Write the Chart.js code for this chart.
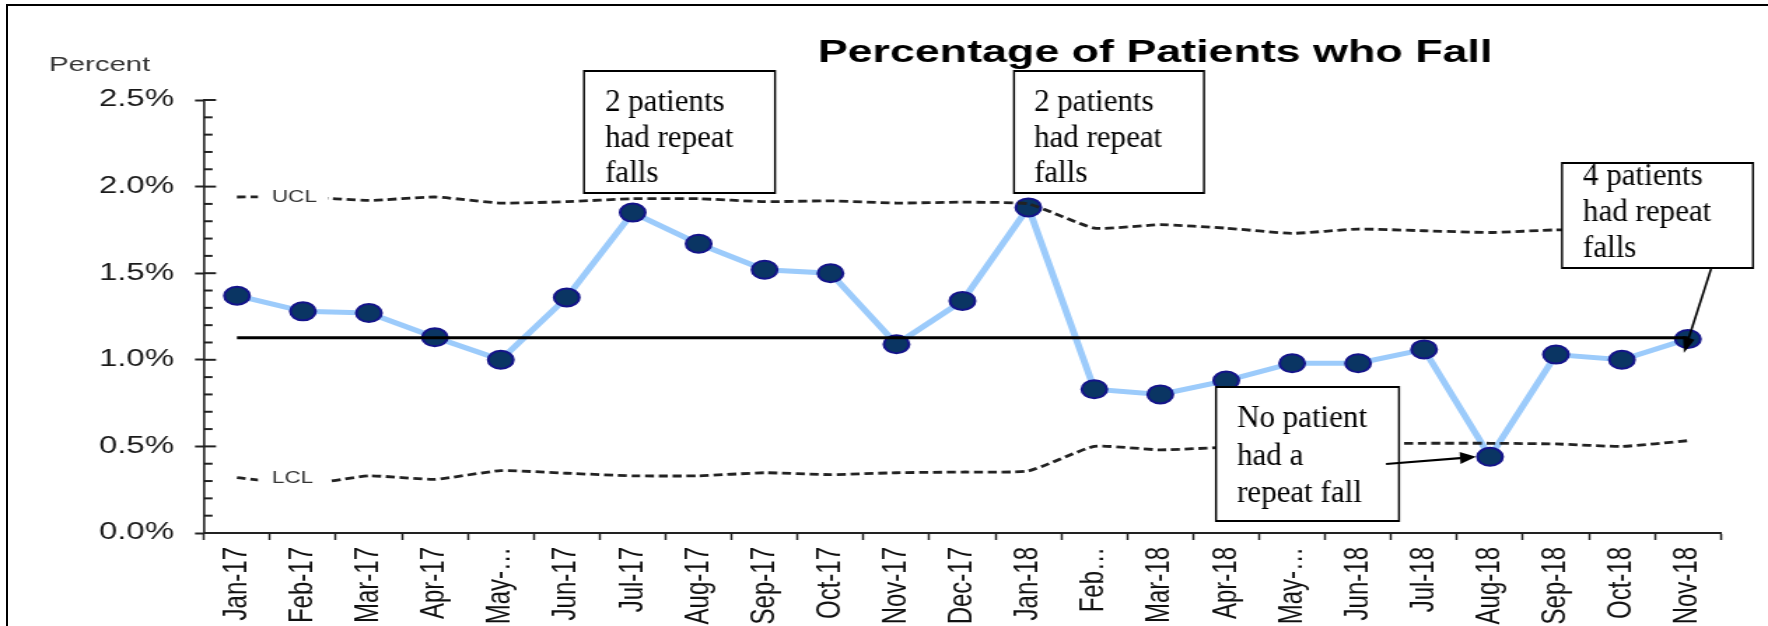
<!DOCTYPE html>
<html>
<head>
<meta charset="utf-8">
<script src="https://cdn.jsdelivr.net/npm/chart.js"></script>
<style>
  html, body { margin: 0; padding: 0; background: #fff; overflow: hidden; }
  #wrap { position: relative; width: 1768px; height: 626px; }
  #c { position: absolute; left: 0; top: 0; width: 1768px; height: 626px; }
  #frame { position: absolute; left: 6px; top: 4px; right: -4px; bottom: -6px;
           border-top: 2px solid #000; border-left: 2px solid #000; pointer-events: none; }
</style>
</head>
<body>
<div id="wrap">
  <canvas id="c" width="1263" height="626"></canvas>
  <div id="frame"></div>
</div>
<script>
// ---------------- data ----------------
const categories = ['Jan-17','Feb-17','Mar-17','Apr-17','May-\u2026','Jun-17','Jul-17','Aug-17','Sep-17','Oct-17','Nov-17','Dec-17',
                    'Jan-18','Feb\u2026','Mar-18','Apr-18','May-\u2026','Jun-18','Jul-18','Aug-18','Sep-18','Oct-18','Nov-18'];
const fallRate = [1.37,1.28,1.27,1.13,1.00,1.36,1.85,1.67,1.52,1.50,1.09,1.34,
                  1.88,0.83,0.80,0.88,0.98,0.98,1.06,0.44,1.03,1.00,1.12];
const ucl = [1.94,1.94,1.92,1.94,1.905,1.913,1.93,1.93,1.913,1.918,1.905,1.91,
             1.90,1.76,1.78,1.76,1.73,1.755,1.745,1.735,1.75,1.75,1.75];
const lcl = [0.32,0.28,0.33,0.31,0.36,0.345,0.33,0.33,0.348,0.337,0.348,0.352,
             0.358,0.50,0.48,0.495,0.505,0.514,0.518,0.518,0.514,0.50,0.533];
const centerLine = [1.127,1.127,1.127,1.127,1.127,1.127,1.127,1.127,1.127,1.127,1.127,1.127,
                    1.127,1.127,1.127,1.127,1.127,1.127,1.127,1.127,1.127,1.127,1.127];
const yTickValues = [0, 0.5, 1.0, 1.5, 2.0, 2.5];
const titleText = 'Percentage of Patients who Fall';
const yAxisText = 'Percent';
const noteTexts = [
  ['2 patients', 'had repeat', 'falls'],
  ['2 patients', 'had repeat', 'falls'],
  ['4 patients', 'had repeat', 'falls'],
  ['No patient', 'had a', 'repeat fall']
];

// ---------------- styling / layout ----------------
const SX = 1768 / 1263;   // horizontal stretch of the chart picture
// note boxes in page pixels: [left, top, right, bottom, textLeft, firstBaseline, lineGap]
const noteBoxes = [
  [584, 71, 775, 193, 605, 111, 35.5],
  [1014, 71, 1204, 193, 1034, 111, 35.5],
  [1562, 163, 1753, 268, 1583, 185, 36],
  [1216, 387, 1399, 521, 1237, 427, 37.5]
];
// arrows: [noteIndex, startX, startY, pointIndex, dxFromPoint, dyFromPoint]
const noteArrows = [
  [2, 1711, 269, 22, -4, 14],
  [3, 1386, 464, 19, -14, 0]
];

const isMajor = v => Math.abs(v * 2 - Math.round(v * 2)) < 1e-6;

function arrow(ctx, x1, y1, x2, y2) {
  const ang = Math.atan2(y2 - y1, x2 - x1);
  const L = 16, W = 6;
  const bx = x2 - L * Math.cos(ang), by = y2 - L * Math.sin(ang);
  ctx.beginPath(); ctx.moveTo(x1, y1); ctx.lineTo(bx, by); ctx.stroke();
  ctx.beginPath();
  ctx.moveTo(x2, y2);
  ctx.lineTo(bx + W * Math.sin(ang), by - W * Math.cos(ang));
  ctx.lineTo(bx - W * Math.sin(ang), by + W * Math.cos(ang));
  ctx.closePath(); ctx.fill();
}

const decor = {
  id: 'decor',
  afterDatasetsDraw(chart) {
    const {ctx, chartArea, scales: {x, y}} = chart;
    // inner tick marks (major & minor)
    ctx.save();
    ctx.strokeStyle = '#222'; ctx.lineWidth = 2;
    y.ticks.forEach(t => {
      const py = y.getPixelForValue(t.value);
      const len = isMajor(t.value) ? 8.6 : 6.1;
      ctx.beginPath(); ctx.moveTo(chartArea.left, py); ctx.lineTo(chartArea.left + len, py); ctx.stroke();
    });
    ctx.restore();
    // UCL / LCL labels breaking the dashed lines
    ctx.save();
    ctx.font = '16px "Liberation Sans", Arial, sans-serif';
    ctx.textBaseline = 'middle'; ctx.textAlign = 'left';
    const x0 = x.getPixelForValue(0);
    [['UCL', ucl], ['LCL', lcl]].forEach(([lab, arr]) => {
      const py = y.getPixelForValue(arr[0]);
      ctx.fillStyle = '#fff';
      ctx.fillRect(x0 + 15, py - 10, 50, 20);
      ctx.fillStyle = '#333';
      ctx.fillText(lab, x0 + 25, py + 1);
    });
    ctx.restore();
  },
  afterDraw(chart) {
    const {ctx, scales: {x, y}} = chart;
    ctx.save();
    // title
    ctx.font = 'bold 32px "Liberation Sans", Arial, sans-serif';
    ctx.fillStyle = '#000'; ctx.textAlign = 'center'; ctx.textBaseline = 'alphabetic';
    ctx.fillText(titleText, 1155 / SX, 62);
    // axis caption
    ctx.font = '21px "Liberation Sans", Arial, sans-serif';
    ctx.fillStyle = '#333'; ctx.textAlign = 'left';
    ctx.fillText(yAxisText, 49 / SX, 71);
    ctx.restore();

    // note boxes drawn in page pixels (not stretched)
    ctx.save();
    ctx.scale(1 / SX, 1);
    ctx.lineWidth = 2; ctx.strokeStyle = '#000'; ctx.fillStyle = '#000';
    noteBoxes.forEach((b, i) => {
      const [l, t, r, btm, tl, fb, gap] = b;
      ctx.fillStyle = '#fff';
      ctx.fillRect(l, t, r - l, btm - t);
      ctx.strokeRect(l, t, r - l, btm - t);
      ctx.fillStyle = '#000';
      ctx.font = '31px "Liberation Serif", "Times New Roman", serif';
      ctx.textAlign = 'left'; ctx.textBaseline = 'alphabetic';
      noteTexts[i].forEach((line, k) => ctx.fillText(line, tl, fb + k * gap));
    });
    noteArrows.forEach(a => {
      const [ni, sx0, sy0, pi, dx, dy] = a;
      const px = x.getPixelForValue(pi) * SX + dx;
      const py = y.getPixelForValue(fallRate[pi]) + dy;
      ctx.lineWidth = 2.2;
      arrow(ctx, sx0, sy0, px, py);
    });
    ctx.restore();
  }
};

Chart.defaults.font.family = '"Liberation Sans", Arial, sans-serif';

const dash = [6.4, 3.4];
const chart = new Chart(document.getElementById('c'), {
  type: 'line',
  data: {
    labels: categories,
    datasets: [
      { label: 'Percent', data: fallRate, order: 4,
        borderColor: '#9ccbfb', borderWidth: 5, tension: 0,
        pointRadius: 9, pointBackgroundColor: '#0a3563', pointBorderColor: '#14148a', pointBorderWidth: 2 },
      { label: 'UCL', data: ucl, order: 1, borderColor: '#222', borderWidth: 2.8, borderDash: dash,
        pointRadius: 0, tension: 0.15 },
      { label: 'LCL', data: lcl, order: 2, borderColor: '#222', borderWidth: 2.8, borderDash: dash,
        pointRadius: 0, tension: 0.15 },
      { label: 'Mean', data: centerLine, order: 3, borderColor: '#000', borderWidth: 3,
        pointRadius: 0, tension: 0 }
    ]
  },
  options: {
    responsive: false,
    devicePixelRatio: 1,
    animation: false,
    events: [],
    layout: { padding: { top: 100, right: 33.7, bottom: 0, left: 0 } },
    plugins: { legend: { display: false }, tooltip: { enabled: false }, title: { display: false } },
    scales: {
      x: {
        type: 'category',
        offset: true,
        grid: { offset: true, drawOnChartArea: false, drawTicks: true, tickLength: 7, tickWidth: 1.5, tickColor: '#222' },
        border: { display: true, color: '#222', width: 2 },
        ticks: { autoSkip: false, maxRotation: 90, minRotation: 90, padding: 7,
                 color: '#111', font: { size: 24 } },
        afterFit(s) { s.height = 93; }
      },
      y: {
        min: 0, max: 2.5,
        grid: { drawOnChartArea: false, drawTicks: true, tickLength: 6.4, tickWidth: 2,
                tickColor: c => isMajor(c.tick.value) ? '#222' : 'rgba(0,0,0,0)' },
        border: { display: true, color: '#222', width: 1.6 },
        ticks: { stepSize: 0.1, autoSkip: false, padding: 15, color: '#1a1a1a', font: { size: 23.5 },
                 callback: v => (yTickValues.some(t => Math.abs(t - v) < 1e-6) ? v.toFixed(1) + '%' : '') },
        afterFit(s) { s.width = 204 / (1768 / 1263); }
      }
    }
  },
  plugins: [decor]
});
const cv = document.getElementById('c');
cv.style.width = '1768px'; cv.style.height = '626px';
</script>
</body>
</html>
